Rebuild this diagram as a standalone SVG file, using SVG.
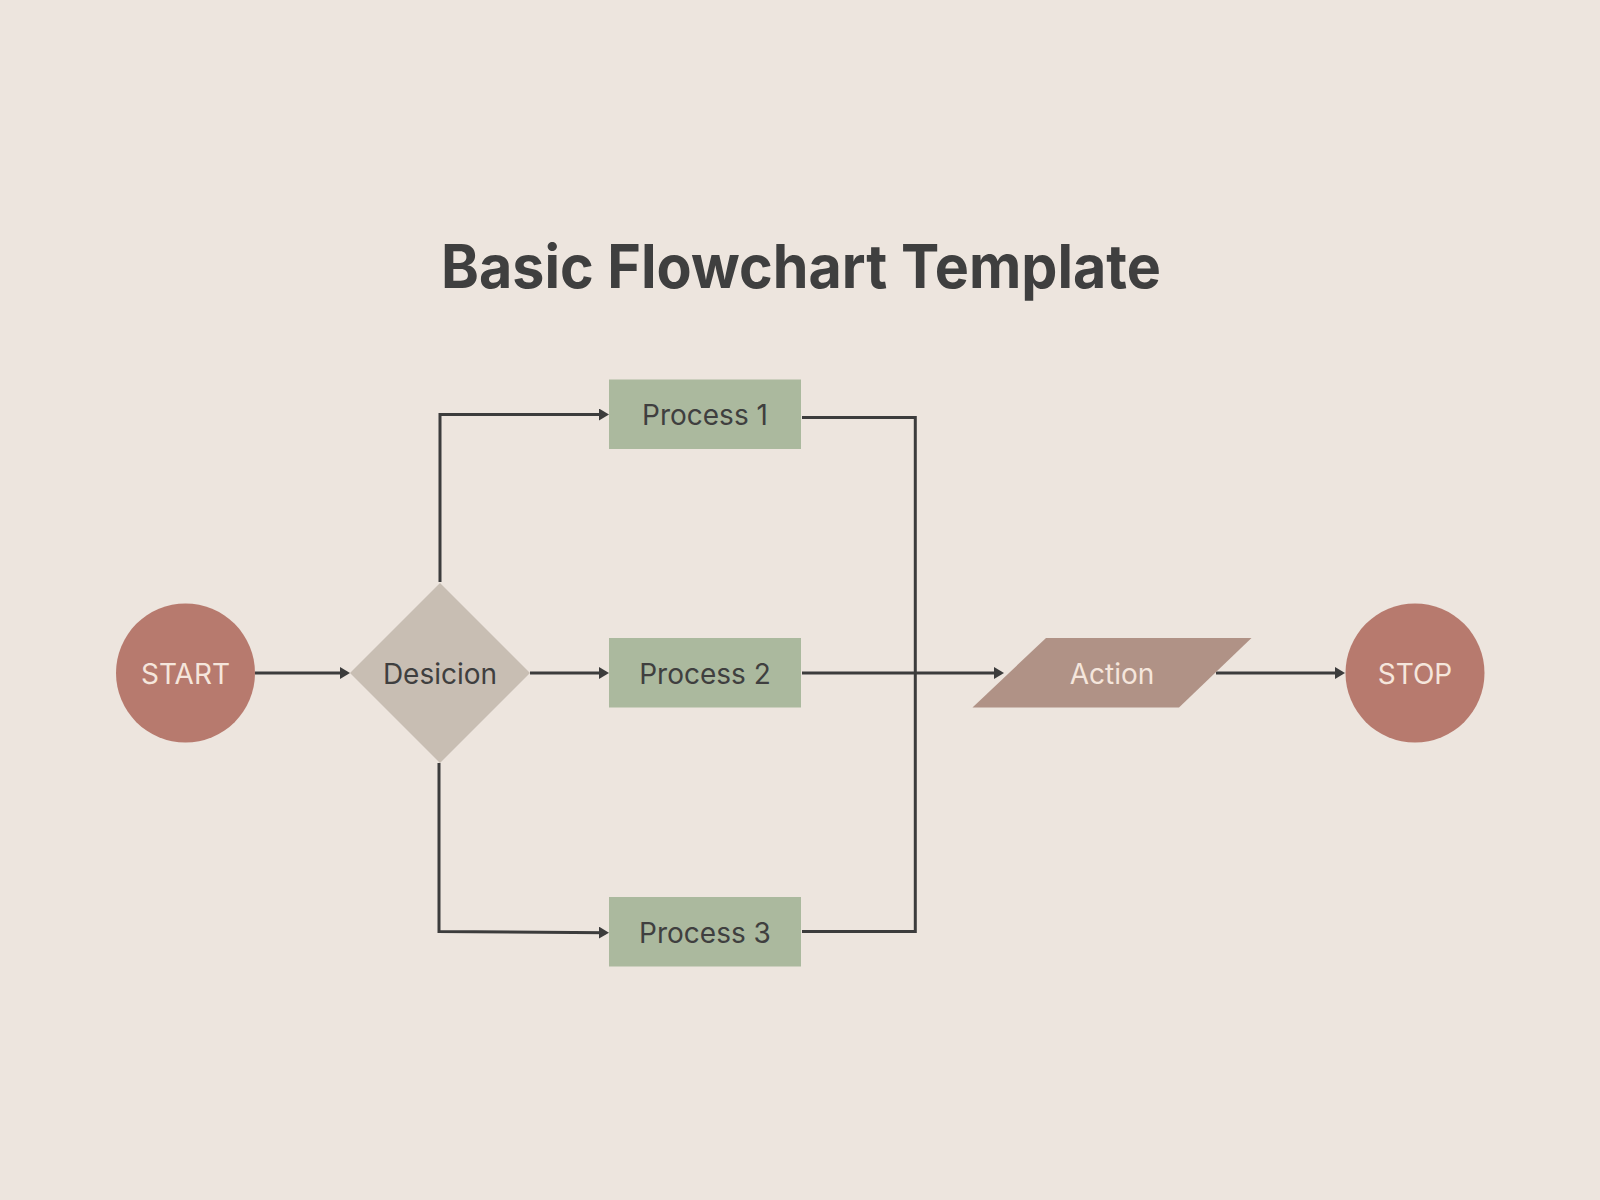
<svg xmlns="http://www.w3.org/2000/svg" width="1600" height="1200" viewBox="0 0 1600 1200">
  <style>
    .bg { fill: #EDE5DE; }
    .term { fill: #B77A6E; }
    .dec { fill: #C8BEB3; }
    .proc { fill: #ABB99E; }
    .act { fill: #B09286; }
    .lbl { font-family: Inter, "Liberation Sans", sans-serif; font-size: 28px; text-anchor: middle; }
    .dark { fill: #3F3F3F; }
    .light { fill: #F5E6DC; }
    .title { font-family: Inter, "Liberation Sans", sans-serif; font-size: 60px; font-weight: 700; fill: #3F3F3F; text-anchor: middle; }
    .conn { fill: none; stroke: #3C3C3C; stroke-width: 3; stroke-linejoin: miter; }
  </style>
  <defs>
    <marker id="arrow" viewBox="0 0 10 12" refX="7" refY="6" markerWidth="10" markerHeight="12" markerUnits="userSpaceOnUse" orient="auto">
      <path d="M0,0 L10,6 L0,12 z" fill="#3C3C3C"/>
    </marker>
  </defs>
  <rect class="bg" x="0" y="0" width="1600" height="1200"/>

  <text class="title" x="801" y="288" textLength="720" lengthAdjust="spacingAndGlyphs">Basic Flowchart Template</text>

  <g id="connectors">
    <path class="conn" d="M255,673 H347" marker-end="url(#arrow)"/>
    <path class="conn" d="M440,582 V414.5 H606" marker-end="url(#arrow)"/>
    <path class="conn" d="M530,673 H606" marker-end="url(#arrow)"/>
    <path class="conn" d="M439,763 V931.5 L606,932.7" marker-end="url(#arrow)"/>
    <path class="conn" d="M802,417.5 H915.3 V931.5 H802"/>
    <path class="conn" d="M802,673 H1001" marker-end="url(#arrow)"/>
    <path class="conn" d="M1216,673 H1342" marker-end="url(#arrow)"/>
  </g>

  <g id="start">
    <circle class="term" cx="185.5" cy="673" r="69.5"/>
    <text class="lbl light" x="185.5" y="683.5">START</text>
  </g>

  <g id="decision">
    <polygon class="dec" points="440,583 530,673 440,763 350,673"/>
    <text class="lbl dark" x="440" y="683.5">Desicion</text>
  </g>

  <g id="process1">
    <rect class="proc" x="609" y="379.5" width="192" height="69.5"/>
    <text class="lbl dark" x="705" y="424.5">Process 1</text>
  </g>

  <g id="process2">
    <rect class="proc" x="609" y="638" width="192" height="69.5"/>
    <text class="lbl dark" x="705" y="683.5">Process 2</text>
  </g>

  <g id="process3">
    <rect class="proc" x="609" y="897" width="192" height="69.5"/>
    <text class="lbl dark" x="705" y="942.5">Process 3</text>
  </g>

  <g id="action">
    <polygon class="act" points="1046,638 1251.5,638 1179,707.5 972.5,707.5"/>
    <text class="lbl light" x="1112" y="683.5">Action</text>
  </g>

  <g id="stop">
    <circle class="term" cx="1415" cy="673" r="69.5"/>
    <text class="lbl light" x="1415" y="683.5">STOP</text>
  </g>
</svg>
